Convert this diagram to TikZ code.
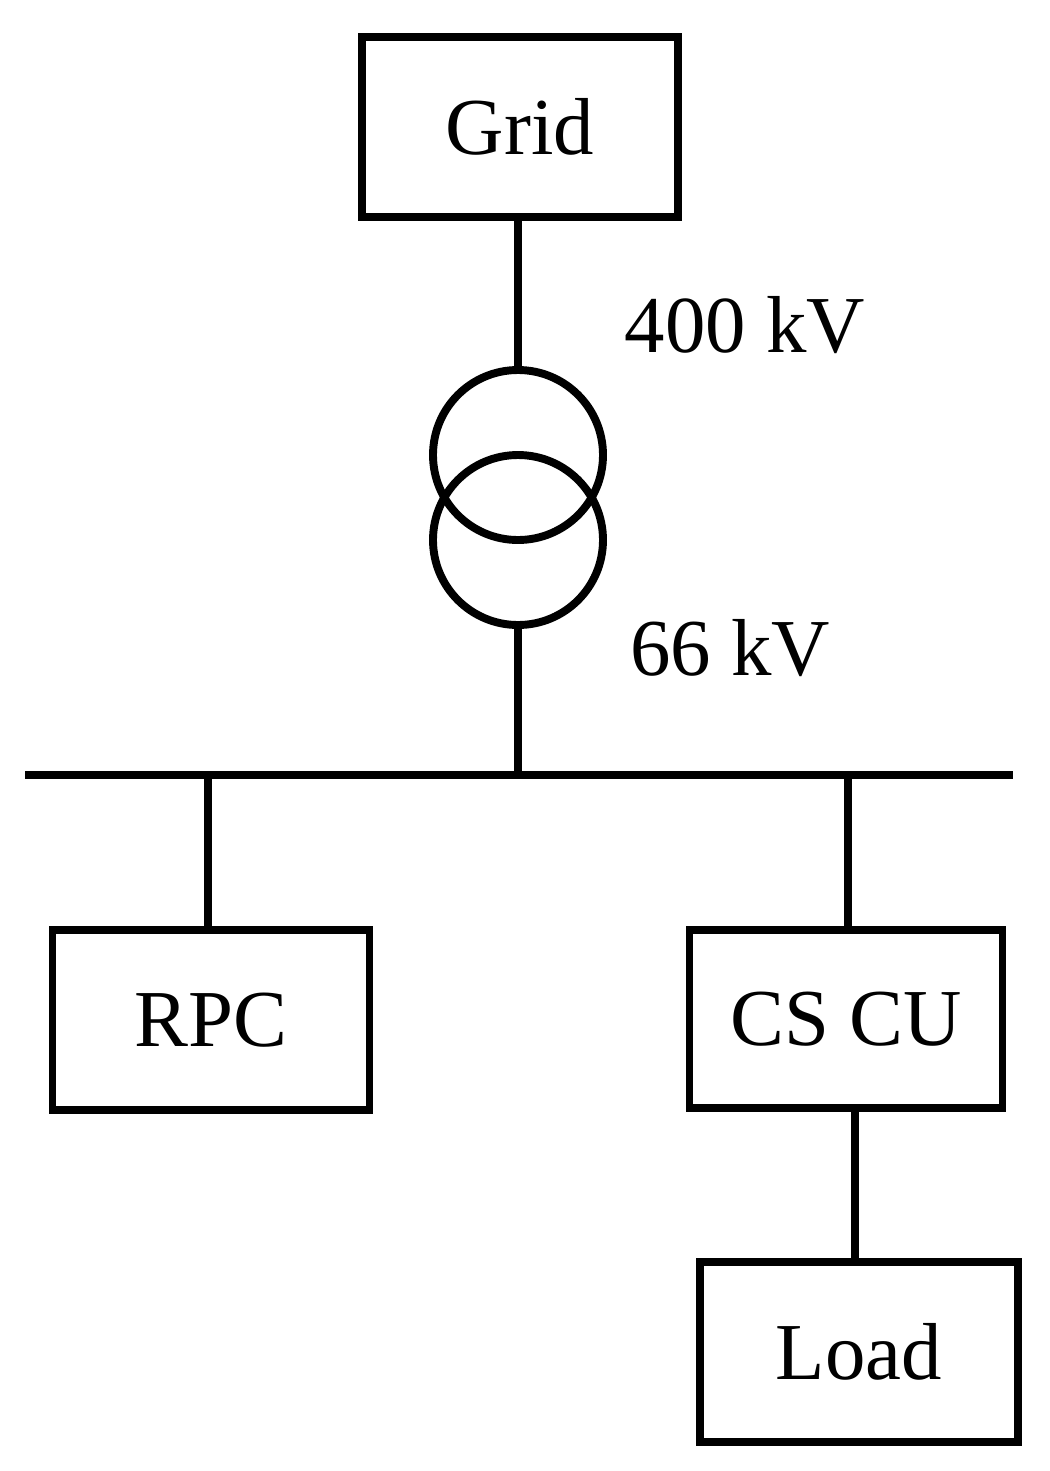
\documentclass[tikz,border=0pt]{standalone}
\usepackage{fontspec}
\setmainfont{Liberation Serif}
\begin{document}
\begin{tikzpicture}[x=0.02cm,y=-0.02cm,
  ln/.style={line width=4.5pt},
  box/.style={draw,line width=4.5pt,rectangle,inner sep=0pt},
  lbl/.style={font=\fontsize{46}{50}\selectfont}]
\useasboundingbox (0,0) rectangle (1050,1471);
\node[box,minimum width=316*0.02cm,minimum height=180*0.02cm,lbl] (grid) at (520,127) {Grid};
\node[box,minimum width=317*0.02cm,minimum height=180*0.02cm,lbl] (rpc) at (211,1020) {RPC};
\node[box,minimum width=313*0.02cm,minimum height=178*0.02cm,lbl] (cscu) at (846,1019) {CS CU};
\node[box,minimum width=318*0.02cm,minimum height=180*0.02cm,lbl] (load) at (859,1352) {Load};
\coordinate (t1) at (518,370);
\coordinate (t2) at (518,625);
\coordinate (busL) at (25,775);
\coordinate (busR) at (1013,775);
\coordinate (busM) at (518,775);
\coordinate (b1) at (208,775);
\coordinate (b2) at (848,775);
\draw[ln] (518,455) circle (85);
\draw[ln] (518,540) circle (85);
\draw[ln] (grid.south -| t1) -- (t1);
\draw[ln] (t2) -- (busM);
\draw[ln] (busL) -- (busR);
\draw[ln] (b1) -- (b1 |- rpc.north);
\draw[ln] (b2) -- (b2 |- cscu.north);
\draw[ln] (855,1108) coordinate (c1) -- (c1 |- load.north);
\node[lbl] (v400) at (745,325) {400 kV};
\node[lbl] (v66) at (730,648) {66 kV};
\end{tikzpicture}
\end{document}
